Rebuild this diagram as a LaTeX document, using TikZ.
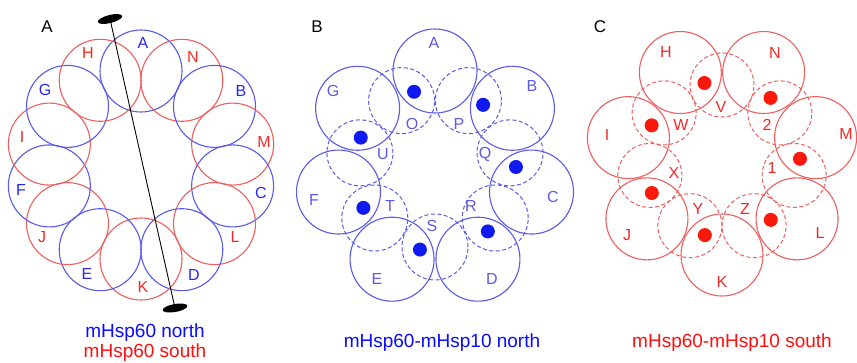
\documentclass[tikz,border=0pt]{standalone}
\usepackage{fontspec}
\setmainfont{Liberation Sans}
\usetikzlibrary{shapes.geometric}
\definecolor{cblue}{RGB}{90,90,235}
\definecolor{cred}{RGB}{238,95,95}
\definecolor{tblue}{RGB}{40,40,245}
\definecolor{tred}{RGB}{245,40,40}
\definecolor{capblue}{RGB}{10,10,255}
\definecolor{capred}{RGB}{255,15,15}
\definecolor{dblue}{RGB}{15,25,240}
\definecolor{dred}{RGB}{250,25,10}
\begin{document}
\begin{tikzpicture}[x=1pt,y=-1pt,
  ring/.style={circle, draw=#1, line width=1.1pt, inner sep=0pt, minimum size=82pt},
  bigB/.style={circle, draw=cblue, line width=1.1pt, inner sep=0pt, minimum size=84pt},
  bigC/.style={circle, draw=cred, line width=1.1pt, inner sep=0pt, minimum size=82pt},
  dashring/.style={circle, draw=#1, line width=1pt, dash pattern=on 4pt off 2.5pt, inner sep=0pt, minimum size=66pt},
  dashringC/.style={circle, draw=#1, line width=1pt, dash pattern=on 4pt off 2.5pt, inner sep=0pt, minimum size=64pt},
  dotnode/.style={circle, fill=#1, inner sep=0pt, minimum size=14pt},
  lbl/.style={text=#1, inner sep=0pt, font=\fontsize{16}{16}\selectfont},
  panel/.style={inner sep=0pt, font=\fontsize{17}{17}\selectfont},
  caption/.style={text=#1, inner sep=0pt, anchor=base, font=\fontsize{19}{19}\selectfont},
  pole/.style={ellipse, fill=black, inner sep=0pt, minimum width=25pt, minimum height=8pt}]
\useasboundingbox (0,0) rectangle (857,362);
\fill[white] (0,0) rectangle (857,362);

% ---------------- Panel A ----------------
\foreach \n/\a/\c in {A/90/cblue, N/64.29/cred, B/38.57/cblue, M/12.86/cred, C/-12.86/cblue, L/-38.57/cred, D/-64.29/cblue, K/-90/cred, E/-115.71/cblue, J/-141.43/cred, F/-167.14/cblue, I/167.14/cred, G/141.43/cblue, H/115.71/cred}
  \node[ring=\c] (a\n) at ({141+94*cos(\a)}, {165-94*sin(\a)}) {};

\foreach \n/\x/\y/\c in {A/143/43/tblue, N/193/57/tred, B/241/91/tblue, M/264/142/tred, C/261/193/tblue, L/235/237/tred, D/194/275/tblue, K/143/287/tred, E/87/274/tblue, J/42/237/tred, F/21/190/tblue, I/22/137/tred, G/45/90/tblue, H/88/53/tred}
  \node[lbl=\c] (la\n) at (\x,\y) {\n};

\node[pole, rotate=14] (poletop) at (110,19) {};
\node[pole, rotate=10] (polebot) at (175,308) {};
\draw[line width=0.9pt] (poletop.center) -- (polebot.center);

\node[panel] (pA) at (47,27) {A};
\node[caption=capblue] (capA1) at (145,337.5) {mHsp60 north};
\node[caption=capred] (capA2) at (145,357.5) {mHsp60 south};

% ---------------- Panel B ----------------
\foreach \n/\a in {P/64.29, Q/12.86, R/-38.57, S/-90, T/-141.43, U/167.14, O/115.71}
  \node[dashring=cblue] (b\n) at ({435+77*cos(\a)}, {170-77*sin(\a)}) {};
\foreach \n/\a in {A/90, B/38.57, C/-12.86, D/-64.29, E/-115.71, F/-167.14, G/141.43}
  \node[bigB] (b\n) at ({435+99*cos(\a)}, {170-99*sin(\a)}) {};
\foreach \n/\a in {A/105, B/53.57, C/2.14, D/-49.29, E/-100.71, F/-152.14, G/156.43}
  \node[dotnode=dblue] (bd\n) at ({435+81*cos(\a)}, {170-81*sin(\a)}) {};

\foreach \n/\x/\y in {A/434/43, B/532/86, C/553/197, D/492/279, E/377/279, F/314/200, G/333/91, O/412/124, P/459/124, Q/485/154, R/471/206, S/432/226, T/390/206, U/383/154}
  \node[lbl=cblue] (lb\n) at (\x,\y) {\n};

\node[panel] (pB) at (317,27) {B};
\node[caption=capblue] (capB) at (442,347) {mHsp60-mHsp10 north};

% ---------------- Panel C ----------------
\foreach \n/\a in {V/90, 2/38.57, 1/-12.86, Z/-64.29, Y/-115.71, X/-167.14, W/141.43}
  \node[dashringC=cred] (c\n) at ({722+74*cos(\a)}, {159-74*sin(\a)}) {};
\foreach \n/\a in {H/115.71, N/64.29, M/12.86, L/-38.57, K/-90, J/-141.43, I/167.14}
  \node[bigC] (c\n) at ({722+96*cos(\a)}, {159-96*sin(\a)}) {};
\foreach \n/\a in {H/103, N/51.57, M/0.14, L/-51.29, K/-102.71, J/-154.14, I/154.43}
  \node[dotnode=dred] (cd\n) at ({722+78*cos(\a)}, {159-78*sin(\a)}) {};

\foreach \n/\x/\y in {H/666/52, N/775/53, M/846/134, L/820/233, K/722/282, J/627/235, I/607/135, V/721/107, 2/767/125, 1/772/168, Z/745/209, Y/698/209, X/674/173, W/681/125}
  \node[lbl=tred] (lc\n) at (\x,\y) {\n};

\node[panel] (pC) at (600,27) {C};
\node[caption=capred] (capC) at (732,347) {mHsp60-mHsp10 south};
\end{tikzpicture}
\end{document}
